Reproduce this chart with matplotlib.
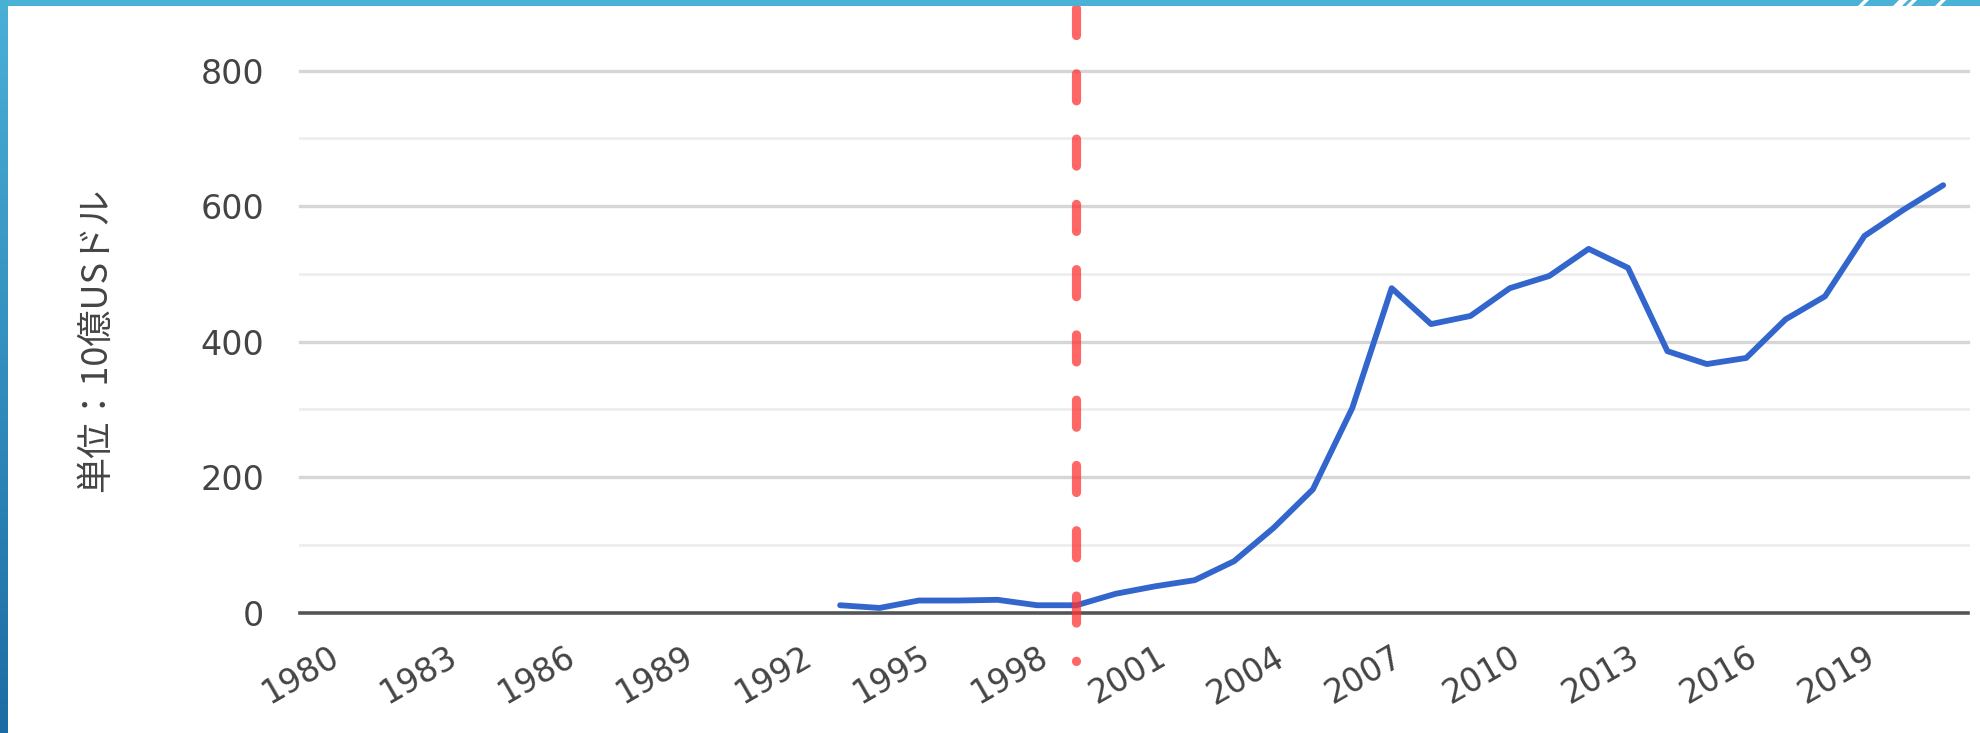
import matplotlib
matplotlib.use("Agg")
import matplotlib.pyplot as plt
from matplotlib.patches import Rectangle, Polygon
import numpy as np

plt.rcParams['lines.scale_dashes'] = False

years = list(range(1993, 2022))
values = [11, 7, 18, 18, 19, 11, 11, 28, 39, 48, 76, 125, 182, 302, 479, 426, 438,
          479, 497, 537, 509, 386, 367, 376, 433, 467, 556, 595, 631]
xticks = list(range(1980, 2020, 3))
major_y = [200, 400, 600, 800]
minor_y = [100, 300, 500, 700]
ylabels = [0, 200, 400, 600, 800]
marker_year = 1999
ylabel_text = "単位：10億USドル"

W, H = 1980, 733
fig = plt.figure(figsize=(W / 100, H / 100), dpi=100)
fig.patch.set_facecolor("white")

ax = fig.add_axes([300 / W, 1 - 612.7 / H, (1968 - 300) / W, (612.7 - 70.7) / H])
ax.set_xlim(1979.29, 2021.63)
ax.set_ylim(0, 800)
for s in ax.spines.values():
    s.set_visible(False)
ax.set_facecolor("none")

for v in minor_y:
    ax.axhline(v, color="#eeeeee", lw=2.0, zorder=1, clip_on=False)
for v in major_y:
    ax.axhline(v, color="#d6d6d6", lw=2.4, zorder=1.1, clip_on=False)
ax.axhline(0, color="#555555", lw=2.6, zorder=2, clip_on=False)

ax.plot(years, values, color="#3366cc", lw=4.2, zorder=3, solid_joinstyle="round",
        solid_capstyle="round")

# red dashed vertical marker
lw_pt = 6.6
ax.plot([marker_year, marker_year], [(612.7 - 7.5) / 542.0, (612.7 - 661) / 542.0],
        transform=ax.get_xaxis_transform(), color="#ff3333", alpha=0.75,
        lw=lw_pt, dashes=(19.5, 27.5), dash_capstyle="round", clip_on=False, zorder=5)

ax.set_xticks(xticks)
ax.set_xticklabels([str(x) for x in xticks], rotation=30, ha="right",
                   rotation_mode="anchor", fontsize=23.5, color="#444444",
                   family="DejaVu Sans")
ax.set_yticks(ylabels)
ax.set_yticklabels([str(v) for v in ylabels], fontsize=24, color="#444444",
                   family="DejaVu Sans")
ax.tick_params(axis="both", length=0)
ax.tick_params(axis="y", pad=26)
ax.tick_params(axis="x", pad=20)

fig.text(96 / W, 1 - 340 / H, ylabel_text, rotation=90, ha="center", va="center",
         fontsize=26, color="#444444", family=["Noto Sans CJK JP", "DejaVu Sans"])

# decorative frame: top bar and left gradient bar
fig.add_artist(Rectangle((0, 1 - 6 / H), 1, 6 / H, transform=fig.transFigure,
                         facecolor="#4ab2d6", edgecolor="none", zorder=10))
grad = np.linspace(0, 1, 256).reshape(-1, 1)
c_top = np.array([0x4a, 0xb0, 0xd6]) / 255
c_bot = np.array([0x1c, 0x6c, 0xa4]) / 255
img = c_top[None, None, :] * (1 - grad[:, :, None]) + c_bot[None, None, :] * grad[:, :, None]
bar_ax = fig.add_axes([0, 0, 8 / W, 1])
bar_ax.imshow(img, aspect="auto", extent=[0, 1, 0, 1])
bar_ax.axis("off")
bar_ax.set_zorder(11)

# white slashes in top-right of the bar
for x0, w in [(1858, 5), (1893, 9), (1906, 5), (1935, 5)]:
    poly = Polygon([(x0 / W, 1 - 6 / H), ((x0 + w) / W, 1 - 6 / H),
                    ((x0 + w + 6) / W, 1.0), ((x0 + 6) / W, 1.0)],
                   closed=True, transform=fig.transFigure, facecolor="white",
                   edgecolor="none", zorder=12)
    fig.add_artist(poly)

fig.savefig("out.png", dpi=100, facecolor="white")
